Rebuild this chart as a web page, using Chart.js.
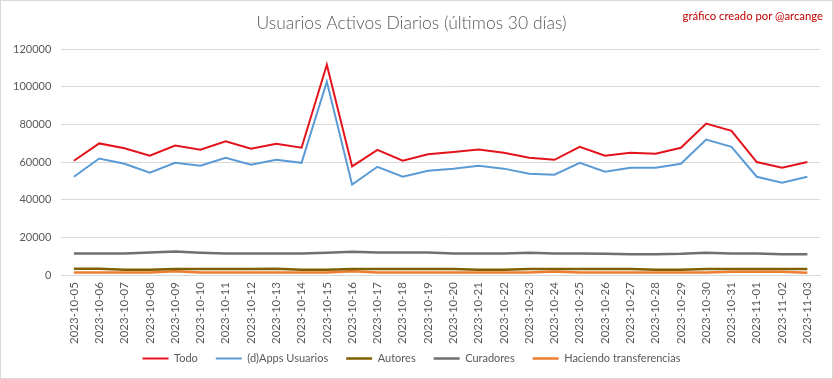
<!DOCTYPE html>
<html><head><meta charset="utf-8">
<script src="https://cdn.jsdelivr.net/npm/chart.js@4.4.0/dist/chart.umd.min.js"></script>
<style>
html,body{margin:0;padding:0;background:#fff;}
#wrap{position:relative;width:831px;height:377px;border:1px solid #d9d9d9;}
#wm{position:absolute;right:9px;top:8px;font-family:Lato,"Open Sans",sans-serif;font-size:11.3px;color:#c00000;}
</style></head><body>
<div id="wrap"><canvas id="c" width="831" height="377"></canvas><div id="wm">gráfico creado por @arcange</div></div>
<script>
const categories = ["2023-10-05","2023-10-06","2023-10-07","2023-10-08","2023-10-09","2023-10-10","2023-10-11","2023-10-12","2023-10-13","2023-10-14","2023-10-15","2023-10-16","2023-10-17","2023-10-18","2023-10-19","2023-10-20","2023-10-21","2023-10-22","2023-10-23","2023-10-24","2023-10-25","2023-10-26","2023-10-27","2023-10-28","2023-10-29","2023-10-30","2023-10-31","2023-11-01","2023-11-02","2023-11-03"];
const todo = [60700,69900,67300,63400,68800,66500,71000,67100,69700,67600,111700,57700,66500,60700,64100,65300,66700,64900,62300,61200,68100,63400,64900,64400,67600,80400,76600,60000,57000,60000];
const apps = [52200,61900,59100,54300,59600,58000,62300,58600,61200,59600,102600,48000,57500,52200,55400,56500,58000,56500,53800,53300,59600,54900,57000,57000,59100,71900,68100,52200,49000,52200];
const autores = [3400,3400,2900,2900,3300,3300,3300,3300,3400,2900,2900,3300,3300,3300,3300,3300,2900,2900,3300,3300,3300,3300,3300,2800,2800,3200,3300,3300,3300,3300];
const curadores = [11500,11500,11500,12000,12500,11900,11500,11500,11500,11500,11900,12400,12000,12000,12000,11500,11500,11500,11900,11500,11500,11300,11000,11000,11300,11900,11500,11500,11000,11000];
const transferencias = [1400,1400,1400,1400,2000,1400,1400,1400,1400,1400,1400,2100,1400,1400,1400,1400,1400,1400,1400,1900,1400,1400,1400,1400,1400,1400,1800,1800,1800,1200];
const yTicks = [0,20000,40000,60000,80000,100000,120000];

const FONT = 'Lato, "Open Sans", sans-serif';
const LEGEND_SHIFT = 16;
function ds(label, data, color, w){
  return {label, data, borderColor: color, backgroundColor: color, borderWidth: w, pointRadius: 0, tension: 0, fill: false};
}
const legendShift = {
  id: 'legendShift',
  beforeUpdate(chart){
    const lg = chart.legend;
    if (lg && !lg._wrapped){
      const f = lg.fit;
      lg.fit = function(){ f.call(this); this.height -= LEGEND_SHIFT; };
      lg._wrapped = true;
    }
  },
  afterLayout(chart){
    const lg = chart.legend;
    if (lg){ lg.top -= LEGEND_SHIFT; lg.height += LEGEND_SHIFT; }
  }
};
new Chart(document.getElementById('c'), {
  type: 'line',
  data: {
    labels: categories,
    datasets: [
      ds('Todo', todo, '#e3131b', 2),
      ds('(d)Apps Usuarios', apps, '#5b9bd5', 2),
      ds('Autores', autores, '#7f6000', 2.5),
      ds('Curadores', curadores, '#6f6f6f', 2.5),
      ds('Haciendo transferencias', transferencias, '#ed7d31', 2.5)
    ]
  },
  plugins: [legendShift],
  options: {
    responsive: false,
    animation: false,
    layout: {padding: {left: 2, right: 12, top: 0, bottom: 4}},
    plugins: {
      title: {display: true, text: 'Usuarios Activos Diarios (últimos 30 días)', color: '#595959', font: {family: FONT, size: 17.5, weight: 300}, padding: {top: 12, bottom: 15}},
      legend: {position: 'bottom', labels: {color: '#595959', font: {family: FONT, size: 11}, usePointStyle: true, pointStyle: 'line', pointStyleWidth: 26, boxWidth: 26, padding: 18}},
      tooltip: {enabled: false}
    },
    scales: {
      x: {
        offset: true,
        grid: {display: false, drawTicks: false},
        border: {display: true, color: '#d9d9d9'},
        ticks: {color: '#595959', font: {family: FONT, size: 11.5}, minRotation: 90, maxRotation: 90, autoSkip: false, padding: 7}
      },
      y: {
        min: 0, max: 120000,
        afterBuildTicks: (a) => { a.ticks = yTicks.map(v => ({value: v})); },
        grid: {color: '#d9d9d9', drawTicks: false},
        border: {display: false},
        ticks: {color: '#595959', font: {family: FONT, size: 11}, padding: 10, callback: (v) => String(v)}
      }
    }
  }
});
</script>
</body></html>
